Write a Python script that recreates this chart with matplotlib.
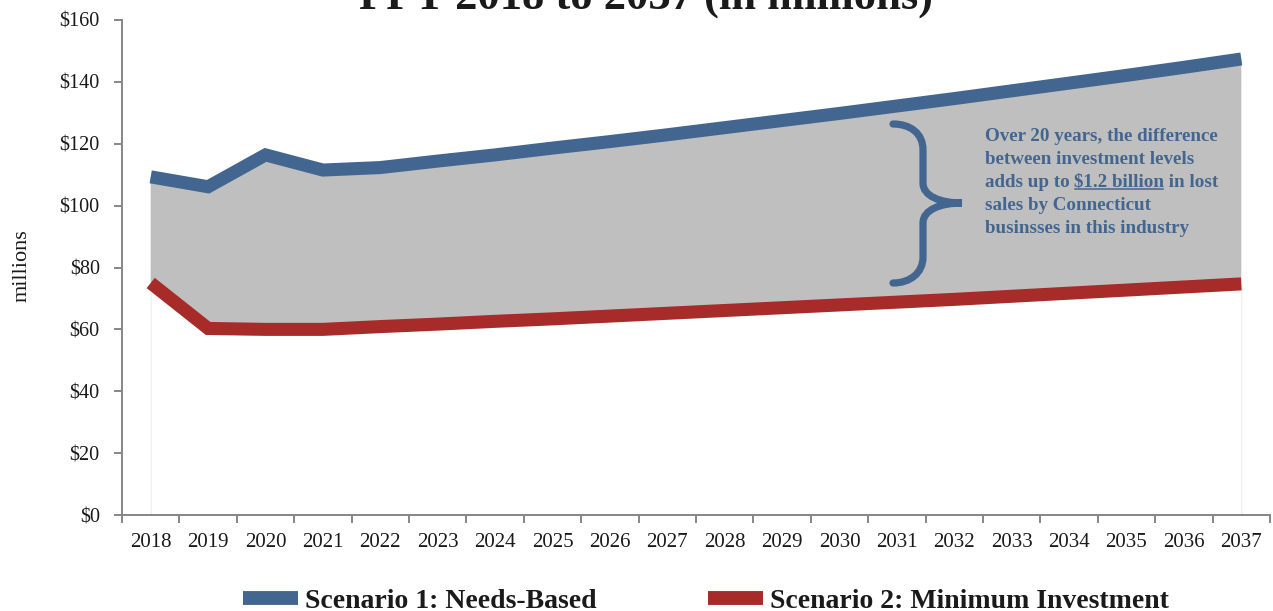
import numpy as np
import matplotlib
matplotlib.use("Agg")
import matplotlib.pyplot as plt
from matplotlib.lines import Line2D
from matplotlib.path import Path
from matplotlib.patches import PathPatch

plt.rcParams["font.family"] = ["Liberation Serif", "DejaVu Serif"]

# values (millions of dollars)
years = [str(y) for y in range(2018, 2038)]
needs_based = [109.3, 106.1, 116.4, 111.5, 112.3, 114.4, 116.4, 118.6, 120.7, 122.9,
               125.2, 127.5, 129.8, 132.2, 134.6, 137.1, 139.6, 142.1, 144.7, 147.4]
minimum = [75.0, 60.3, 60.0, 60.0, 60.9, 61.7, 62.6, 63.4, 64.3, 65.2,
           66.1, 67.0, 67.9, 68.8, 69.7, 70.7, 71.7, 72.7, 73.7, 74.7]
yticks = [0, 20, 40, 60, 80, 100, 120, 140, 160]
series_labels = ["Scenario 1: Needs-Based", "Scenario 2: Minimum Investment"]

BLUE = "#436690"
RED = "#a72b29"
GRAY = "#bfbfbf"
SPINE = "#868686"
TXT = "#1a1a1a"

W, H = 1273, 611
fig = plt.figure(figsize=(W / 100, H / 100), dpi=100)
ax = fig.add_axes([122 / W, 1 - 515 / H, 1148 / W, 495 / H])

x = np.arange(len(years))
ax.fill_between(x, 0, minimum, facecolor="white", edgecolor="#ececec", lw=0.8, zorder=1)
ax.fill_between(x, minimum, needs_based, facecolor=GRAY, edgecolor="none", zorder=1)
ax.plot(x, needs_based, color=BLUE, lw=9.4, solid_capstyle="butt",
        solid_joinstyle="miter", zorder=3)
ax.plot(x, minimum, color=RED, lw=9.4, solid_capstyle="butt",
        solid_joinstyle="miter", zorder=3)

ax.set_xlim(-0.5, len(years) - 0.5)
ax.set_ylim(0, 160)
ax.set_yticks(yticks)
ax.set_yticklabels([f"${v}" for v in yticks])

# category boundaries get the tick marks, centres get the labels
ax.set_xticks(np.arange(-0.5, len(years)), labels=[])
ax.set_xticks(x, labels=years, minor=True)
ax.tick_params(axis="x", which="major", length=6, width=1.4, color=SPINE, direction="out")
ax.tick_params(axis="x", which="minor", length=0, pad=13, labelsize=15, labelcolor=TXT)
ax.tick_params(axis="y", length=6, width=1.4, color=SPINE, pad=10,
               labelsize=14.5, labelcolor=TXT)

for side in ["top", "right"]:
    ax.spines[side].set_visible(False)
for side in ["left", "bottom"]:
    ax.spines[side].set_color(SPINE)
    ax.spines[side].set_linewidth(1.4)

fig.text(22 / W, 1 - 266 / H, "millions", rotation=90, ha="center", va="center",
         fontsize=16, color=TXT)

# title sits mostly above the canvas, as in the reference
fig.text(646 / W, 1 - 9 / H, "FFY 2018 to 2037 (in millions)", ha="center",
         va="baseline", fontsize=32, fontweight="bold", color=TXT)

# curly brace, in pixel-like coordinates converted to axes fraction
def px(xp, yp):
    return ((xp - 122) / 1148, (515 - yp) / 495)

verts = [px(893, 124), px(910, 124), px(923, 133), px(923, 150),
         px(923, 183),
         px(923, 196), px(940, 203), px(962, 203),
         px(940, 203), px(923, 210), px(923, 223),
         px(923, 257),
         px(923, 273), px(910, 283), px(893, 283)]
codes = [Path.MOVETO, Path.CURVE4, Path.CURVE4, Path.CURVE4,
         Path.LINETO,
         Path.CURVE4, Path.CURVE4, Path.CURVE4,
         Path.CURVE4, Path.CURVE4, Path.CURVE4,
         Path.LINETO,
         Path.CURVE4, Path.CURVE4, Path.CURVE4]
ax.add_patch(PathPatch(Path(verts, codes), facecolor="none", edgecolor=BLUE, lw=5.2,
                       capstyle="round", transform=ax.transAxes, zorder=4))

note_kw = dict(fontsize=13.7, fontweight="bold", color=BLUE, va="baseline", ha="left")
x0 = 985 / W
base = [141, 164, 187, 210, 233]
fig.text(x0, 1 - base[0] / H, "Over 20 years, the difference", **note_kw)
fig.text(x0, 1 - base[1] / H, "between investment levels", **note_kw)
t1 = fig.text(x0, 1 - base[2] / H, "adds up to ", **note_kw)
t2 = fig.text(0, 0, "$1.2 billion", **note_kw)
t3 = fig.text(0, 0, " in lost", **note_kw)
fig.text(x0, 1 - base[3] / H, "sales by Connecticut", **note_kw)
fig.text(x0, 1 - base[4] / H, "businsses in this industry", **note_kw)

fig.canvas.draw()
r = fig.canvas.get_renderer()
b1 = t1.get_window_extent(r)
t2.set_x(b1.x1 / W)
t2.set_y(1 - base[2] / H)
fig.canvas.draw()
b2 = t2.get_window_extent(r)
t3.set_x(b2.x1 / W)
t3.set_y(1 - base[2] / H)
uy = 1 - (base[2] + 2) / H
fig.add_artist(Line2D([b2.x0 / W, (b2.x1 - 2) / W], [uy, uy], color=BLUE, lw=1.1))

handles = [Line2D([], [], color=BLUE, lw=10, solid_capstyle="butt"),
           Line2D([], [], color=RED, lw=10, solid_capstyle="butt")]
fig.legend(handles, series_labels, loc="center", bbox_to_anchor=(706 / W, 1 - 601 / H),
           ncol=2, frameon=False, handlelength=2.0, handletextpad=0.25,
           columnspacing=4.0, prop=dict(size=20, weight="bold"), labelcolor=TXT)

fig.savefig("out.png", dpi=100)
